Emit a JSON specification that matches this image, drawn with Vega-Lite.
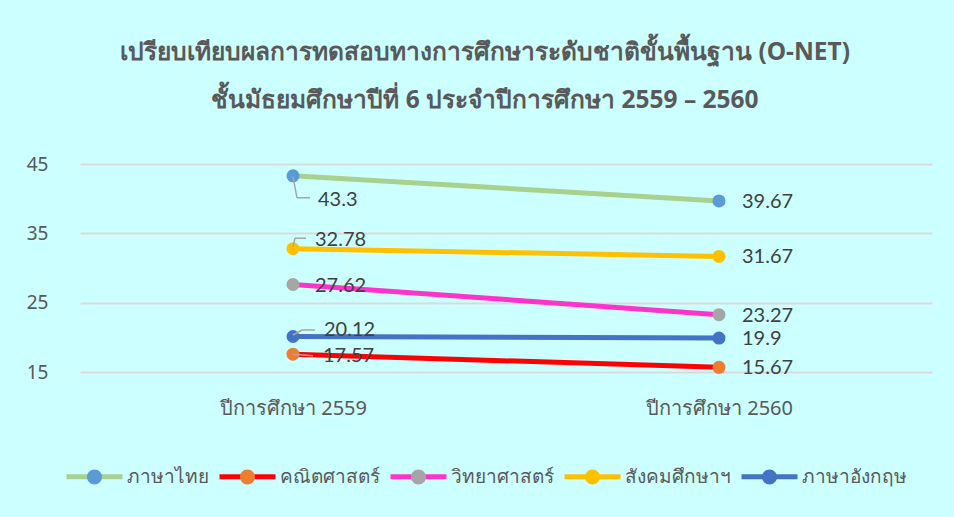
{
  "$schema": "https://vega.github.io/schema/vega-lite/v6.json",
  "width": 852,
  "height": 208,
  "autosize": {"type": "none"},
  "padding": {"left": 80, "top": 164, "right": 22, "bottom": 145},
  "background": "#CCFFFF",
  "title": {
    "text": ["เปรียบเทียบผลการทดสอบทางการศึกษาระดับชาติขั้นพื้นฐาน (O-NET)", "ชั้นมัธยมศึกษาปีที่ 6  ประจำปีการศึกษา 2559 – 2560"],
    "fontSize": 24.5,
    "fontWeight": "bold",
    "color": "#595959",
    "lineHeight": 48,
    "offset": 42,
    "dx": -21,
    "anchor": "middle",
    "font": "Noto Sans"
  },
  "config": {"view": {"stroke": null}, "font": "Noto Sans"},
  "data": {
    "values": [
      {"subject": "ภาษาไทย", "year": "ปีการศึกษา 2559", "score": 43.3},
      {"subject": "ภาษาไทย", "year": "ปีการศึกษา 2560", "score": 39.67},
      {"subject": "คณิตศาสตร์", "year": "ปีการศึกษา 2559", "score": 17.57},
      {"subject": "คณิตศาสตร์", "year": "ปีการศึกษา 2560", "score": 15.67},
      {"subject": "วิทยาศาสตร์", "year": "ปีการศึกษา 2559", "score": 27.62},
      {"subject": "วิทยาศาสตร์", "year": "ปีการศึกษา 2560", "score": 23.27},
      {"subject": "สังคมศึกษาฯ", "year": "ปีการศึกษา 2559", "score": 32.78},
      {"subject": "สังคมศึกษาฯ", "year": "ปีการศึกษา 2560", "score": 31.67},
      {"subject": "ภาษาอังกฤษ", "year": "ปีการศึกษา 2559", "score": 20.12},
      {"subject": "ภาษาอังกฤษ", "year": "ปีการศึกษา 2560", "score": 19.9}
    ]
  },
  "encoding": {
    "x": {
      "field": "year", "type": "nominal",
      "scale": {"type": "point", "padding": 0.5},
      "axis": {"title": null, "domain": false, "ticks": false, "labelAngle": 0, "labelFontSize": 20, "labelColor": "#595959", "labelPadding": 26, "labelFont": "Noto Sans"}
    },
    "y": {
      "field": "score", "type": "quantitative",
      "scale": {"domain": [15, 45], "nice": false, "zero": false},
      "axis": {"title": null, "values": [15, 25, 35, 45], "domain": false, "ticks": false, "labelFontSize": 19, "labelColor": "#595959", "labelPadding": 32, "gridColor": "#D9D9D9", "gridWidth": 2, "labelFont": "Noto Sans"}
    }
  },
  "layer": [
    {
      "mark": {"type": "line", "strokeWidth": 5},
      "encoding": {
        "stroke": {
          "field": "subject", "type": "nominal",
          "scale": {"domain": ["ภาษาไทย", "คณิตศาสตร์", "วิทยาศาสตร์", "สังคมศึกษาฯ", "ภาษาอังกฤษ"], "range": ["#A9D18E", "#FF0000", "#FF33CC", "#FFC000", "#4472C4"]},
          "legend": {"orient": "none", "legendX": -16, "legendY": 282, "direction": "horizontal", "title": null, "symbolType": "stroke", "symbolSize": 3136, "symbolStrokeWidth": 5, "labelFontSize": 19, "labelColor": "#595959", "labelFont": "Noto Sans", "labelOffset": 2, "columnPadding": 0, "symbolOffset": 0}
        }
      }
    },
    {
      "mark": {"type": "point", "filled": true, "size": 170, "opacity": 1},
      "encoding": {
        "fill": {
          "field": "subject", "type": "nominal",
          "scale": {"domain": ["ภาษาอังกฤษ", "สังคมศึกษาฯ", "วิทยาศาสตร์", "คณิตศาสตร์", "ภาษาไทย"], "range": ["#4472C4", "#FFC000", "#A5A5A5", "#ED7D31", "#5B9BD5"]},
          "legend": {"orient": "none", "legendX": -16, "legendY": 282, "direction": "horizontal", "title": null, "values": ["ภาษาไทย", "คณิตศาสตร์", "วิทยาศาสตร์", "สังคมศึกษาฯ", "ภาษาอังกฤษ"], "symbolType": "M-1,0L1,0M0.268,0A0.268,0.268,0,1,1,-0.268,0A0.268,0.268,0,1,1,0.268,0Z", "symbolSize": 3136, "symbolStrokeWidth": 5, "symbolStrokeColor": "transparent", "labelFontSize": 19, "labelOpacity": 0, "labelFont": "Noto Sans", "labelOffset": 2, "columnPadding": 0, "symbolOffset": 0, "zindex": 1}
        }
      }
    },
    {
      "transform": [{"filter": "datum.year == 'ปีการศึกษา 2559' && datum.subject == 'ภาษาไทย'"}],
      "mark": {"type": "rule", "color": "#A6A6A6", "strokeWidth": 1.5, "yOffset": 1, "x2Offset": 4, "y2Offset": 22},
      "encoding": {"x2": {"field": "year"}, "y2": {"field": "score"}}
    },
    {
      "transform": [{"filter": "datum.year == 'ปีการศึกษา 2559' && datum.subject == 'ภาษาไทย'"}],
      "mark": {"type": "rule", "color": "#A6A6A6", "strokeWidth": 1.5, "xOffset": 4, "yOffset": 22, "x2Offset": 17, "y2Offset": 22},
      "encoding": {"x2": {"field": "year"}, "y2": {"field": "score"}}
    },
    {
      "transform": [{"filter": "datum.year == 'ปีการศึกษา 2559' && datum.subject == 'สังคมศึกษาฯ'"}],
      "mark": {"type": "rule", "color": "#A6A6A6", "strokeWidth": 1.5, "yOffset": -2, "x2Offset": 2, "y2Offset": -10.5},
      "encoding": {"x2": {"field": "year"}, "y2": {"field": "score"}}
    },
    {
      "transform": [{"filter": "datum.year == 'ปีการศึกษา 2559' && datum.subject == 'สังคมศึกษาฯ'"}],
      "mark": {"type": "rule", "color": "#A6A6A6", "strokeWidth": 1.5, "xOffset": 2, "yOffset": -10.5, "x2Offset": 13, "y2Offset": -10.5},
      "encoding": {"x2": {"field": "year"}, "y2": {"field": "score"}}
    },
    {
      "transform": [{"filter": "datum.year == 'ปีการศึกษา 2559' && datum.subject == 'ภาษาอังกฤษ'"}],
      "mark": {"type": "rule", "color": "#A6A6A6", "strokeWidth": 1.5, "yOffset": -1.5, "x2Offset": 9, "y2Offset": -6.5},
      "encoding": {"x2": {"field": "year"}, "y2": {"field": "score"}}
    },
    {
      "transform": [{"filter": "datum.year == 'ปีการศึกษา 2559' && datum.subject == 'ภาษาอังกฤษ'"}],
      "mark": {"type": "rule", "color": "#A6A6A6", "strokeWidth": 1.5, "xOffset": 9, "yOffset": -6.5, "x2Offset": 22, "y2Offset": -6.5},
      "encoding": {"x2": {"field": "year"}, "y2": {"field": "score"}}
    },
    {
      "transform": [{"filter": "datum.year == 'ปีการศึกษา 2559' && datum.subject == 'คณิตศาสตร์'"}],
      "mark": {"type": "rule", "color": "#A6A6A6", "strokeWidth": 1.5, "x2Offset": 20, "y2Offset": 1.5},
      "encoding": {"x2": {"field": "year"}, "y2": {"field": "score"}}
    },
    {
      "transform": [{"filter": "datum.year == 'ปีการศึกษา 2560'"}],
      "mark": {"type": "text", "align": "left", "baseline": "middle", "dx": 23, "dy": 1, "fontSize": 20, "font": "Lato", "color": "#404040"},
      "encoding": {"text": {"field": "score", "type": "quantitative"}}
    },
    {
      "transform": [{"filter": "datum.year == 'ปีการศึกษา 2559' && datum.subject == 'ภาษาไทย'"}],
      "mark": {"type": "text", "align": "left", "baseline": "middle", "dx": 25, "dy": 24, "fontSize": 20, "font": "Lato", "color": "#404040"},
      "encoding": {"text": {"field": "score", "type": "quantitative"}}
    },
    {
      "transform": [{"filter": "datum.year == 'ปีการศึกษา 2559' && datum.subject == 'สังคมศึกษาฯ'"}],
      "mark": {"type": "text", "align": "left", "baseline": "middle", "dx": 22, "dy": -9, "fontSize": 20, "font": "Lato", "color": "#404040"},
      "encoding": {"text": {"field": "score", "type": "quantitative"}}
    },
    {
      "transform": [{"filter": "datum.year == 'ปีการศึกษา 2559' && datum.subject == 'วิทยาศาสตร์'"}],
      "mark": {"type": "text", "align": "left", "baseline": "middle", "dx": 22, "dy": 1, "fontSize": 20, "font": "Lato", "color": "#404040"},
      "encoding": {"text": {"field": "score", "type": "quantitative"}}
    },
    {
      "transform": [{"filter": "datum.year == 'ปีการศึกษา 2559' && datum.subject == 'ภาษาอังกฤษ'"}],
      "mark": {"type": "text", "align": "left", "baseline": "middle", "dx": 31, "dy": -7, "fontSize": 20, "font": "Lato", "color": "#404040"},
      "encoding": {"text": {"field": "score", "type": "quantitative"}}
    },
    {
      "transform": [{"filter": "datum.year == 'ปีการศึกษา 2559' && datum.subject == 'คณิตศาสตร์'"}],
      "mark": {"type": "text", "align": "left", "baseline": "middle", "dx": 30, "dy": 2, "fontSize": 20, "font": "Lato", "color": "#404040"},
      "encoding": {"text": {"field": "score", "type": "quantitative"}}
    }
  ]
}
